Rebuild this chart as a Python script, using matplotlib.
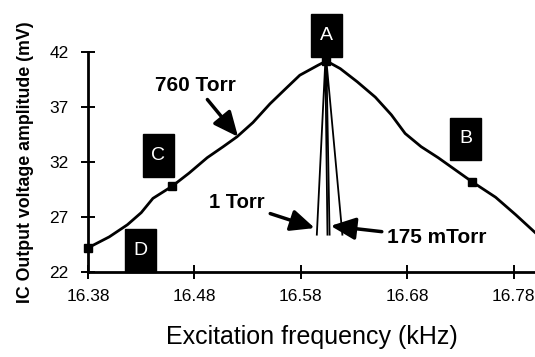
import matplotlib
matplotlib.use("Agg")
import matplotlib.pyplot as plt
from matplotlib.patches import Rectangle

plt.rcParams['font.family'] = ['Liberation Sans', 'DejaVu Sans']

# 760 Torr broad resonance curve
freq_760 = [16.380, 16.400, 16.417, 16.430, 16.441, 16.459, 16.475, 16.492, 16.507,
            16.520, 16.535, 16.551, 16.566, 16.579, 16.596, 16.604, 16.617, 16.633,
            16.650, 16.665, 16.678, 16.693, 16.709, 16.725, 16.741, 16.763, 16.782, 16.800]
amp_760 = [24.2, 25.2, 26.3, 27.4, 28.7, 29.8, 31.0, 32.4, 33.4,
           34.3, 35.6, 37.3, 38.7, 39.9, 40.8, 41.2, 40.5, 39.3,
           37.9, 36.3, 34.6, 33.4, 32.4, 31.3, 30.2, 28.8, 27.2, 25.6]

# measurement points marked on the curve
mark_freq = [16.380, 16.459, 16.604, 16.741]
mark_amp = [24.2, 29.8, 41.2, 30.2]

# narrow resonances at low pressure
freq_1torr = [16.595, 16.603, 16.605]
amp_1torr = [25.4, 41.2, 25.4]
freq_175m = [16.607, 16.604, 16.619]
amp_175m = [25.4, 41.2, 25.4]

# point labels (letter, centre freq, centre amplitude)
point_labels = ['A', 'B', 'C', 'D']
label_freq = [16.604, 16.735, 16.446, 16.429]
label_amp = [43.5, 34.1, 32.6, 23.95]

x_ticks = [16.38, 16.48, 16.58, 16.68, 16.78]
y_ticks = [22, 27, 32, 37, 42]

fig = plt.figure(figsize=(5.35, 3.57), dpi=100)
ax = fig.add_axes([0.1645, 0.238, 0.8355, 0.616])

ax.plot(freq_760, amp_760, color='black', lw=2, clip_on=False)
ax.plot(freq_1torr, amp_1torr, color='black', lw=1.3, clip_on=False)
ax.plot(freq_175m, amp_175m, color='black', lw=1.3, clip_on=False)
ax.plot(mark_freq, mark_amp, 's', color='black', ms=5.5, clip_on=False)

ax.set_xlim(16.38, 16.80)
ax.set_ylim(22, 42)
ax.set_xticks(x_ticks)
ax.set_xticklabels([f'{v:.2f}' for v in x_ticks])
ax.set_yticks(y_ticks)
ax.tick_params(direction='inout', length=10, width=1.4, labelsize=12.5)
ax.tick_params(axis='x', pad=7)
ax.tick_params(axis='y', pad=9)
for s in ['top', 'right']:
    ax.spines[s].set_visible(False)
for s in ['left', 'bottom']:
    ax.spines[s].set_linewidth(2)

ax.set_xlabel('Excitation frequency (kHz)', fontsize=18, labelpad=15)
ax.set_ylabel('IC Output voltage amplitude (mV)', fontsize=12.8, fontweight='bold', labelpad=11)

# black boxes with white letters, a bit taller than wide
bw, bh = 0.029, 3.9
for lbl, x, y in zip(point_labels, label_freq, label_amp):
    ax.add_patch(Rectangle((x - bw / 2, y - bh / 2), bw, bh, fc='black', ec='black',
                           clip_on=False, zorder=3))
    ax.text(x, y, lbl, color='white', fontsize=14, ha='center', va='center',
            clip_on=False, zorder=4)

arrow = dict(arrowstyle='-|>,head_length=1.0,head_width=0.45', color='black', lw=2.5,
             shrinkA=2, shrinkB=0)
ax.annotate('760 Torr', xy=(16.521, 34.3), xytext=(16.481, 39.0), fontsize=15,
            fontweight='bold', ha='center', va='center', arrowprops=arrow)
ax.annotate('1 Torr', xy=(16.593, 26.0), xytext=(16.520, 28.3), fontsize=14.5,
            fontweight='bold', ha='center', va='center', arrowprops=arrow)
ax.annotate('175 mTorr', xy=(16.608, 26.2), xytext=(16.708, 25.1), fontsize=15,
            fontweight='bold', ha='center', va='center', arrowprops=arrow)

fig.savefig('out.png', dpi=100)
